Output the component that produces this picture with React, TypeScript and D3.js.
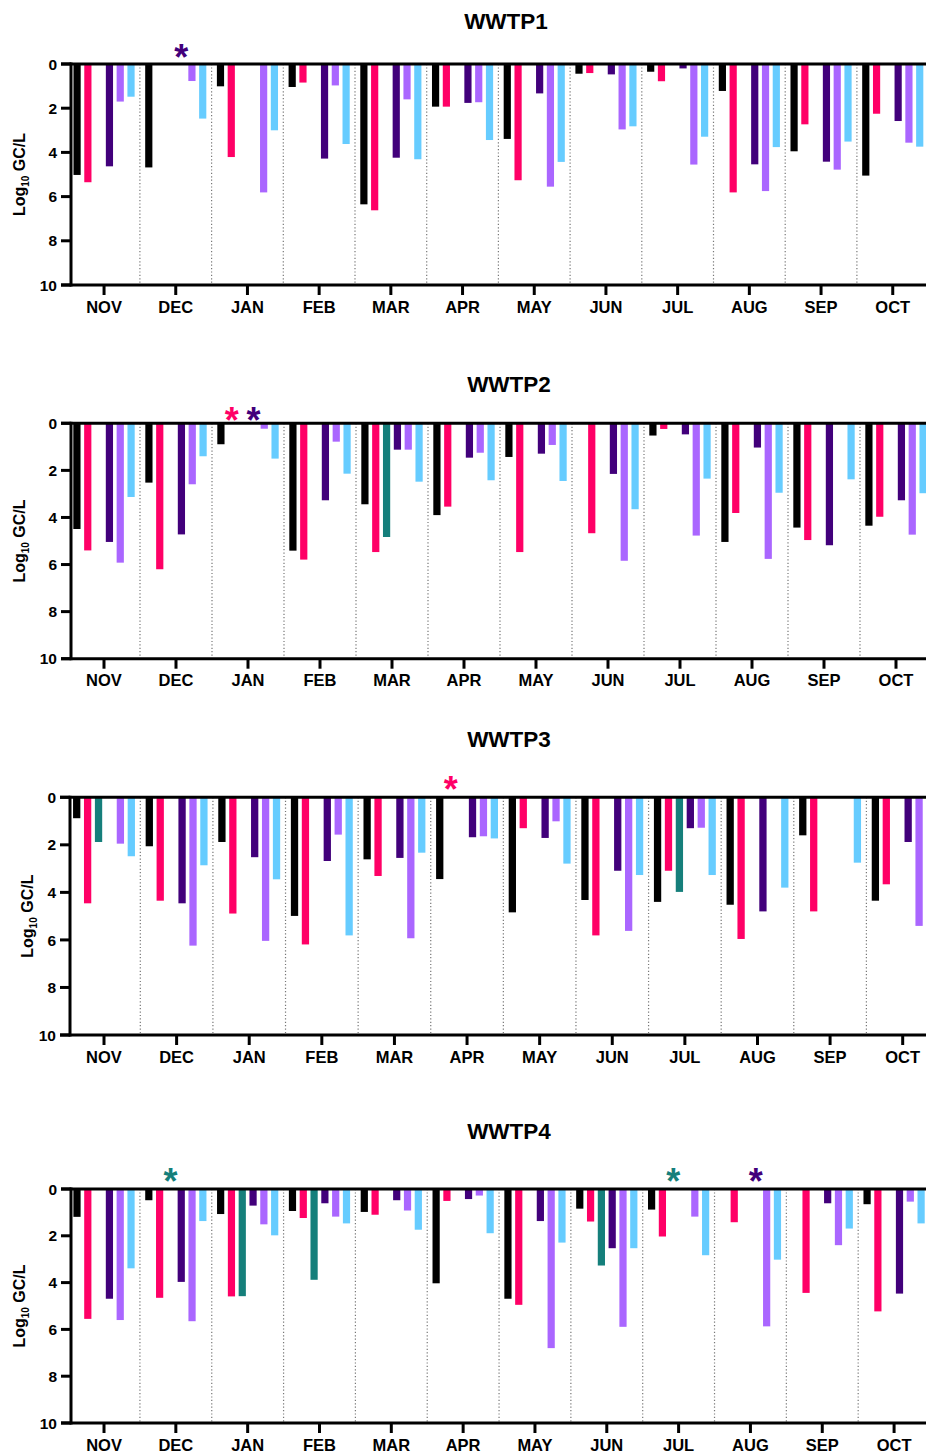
import React from "react";
import * as d3 from "d3";

const months = ["NOV", "DEC", "JAN", "FEB", "MAR", "APR", "MAY", "JUN", "JUL", "AUG", "SEP", "OCT"];
const seriesNames = ["S1", "S2", "S3", "S4", "S5", "S6"];
const seriesColors = ["#000000", "#FF0066", "#157F7B", "#42007B", "#AA66FF", "#66CCFF"];
const yTicks = [0, 2, 4, 6, 8, 10];
const panelTitles = ["WWTP1", "WWTP2", "WWTP3", "WWTP4"];

type V = number | null;

// rows = months, columns = series (black, pink, teal, dark purple, light purple, light blue)
const wwtp1: V[][] = [
  [5.02, 5.35, null, 4.63, 1.7, 1.48],
  [4.68, null, null, null, 0.77, 2.47],
  [1.01, 4.21, null, null, 5.81, 3.0],
  [1.04, 0.84, null, 4.28, 0.97, 3.62],
  [6.35, 6.62, null, 4.24, 1.6, 4.31],
  [1.93, 1.93, null, 1.76, 1.73, 3.44],
  [3.39, 5.26, null, 1.33, 5.55, 4.43],
  [0.44, 0.41, null, 0.47, 2.96, 2.82],
  [0.35, 0.78, null, 0.2, 4.55, 3.29],
  [1.22, 5.81, null, 4.54, 5.75, 3.76],
  [3.95, 2.73, null, 4.42, 4.78, 3.51],
  [5.05, 2.25, null, 2.58, 3.56, 3.74],
];

const wwtp2: V[][] = [
  [4.49, 5.4, null, 5.04, 5.92, 3.13],
  [2.52, 6.2, null, 4.72, 2.59, 1.4],
  [0.89, null, null, null, 0.23, 1.5],
  [5.41, 5.79, null, 3.27, 0.78, 2.14],
  [3.44, 5.47, 4.83, 1.12, 1.12, 2.48],
  [3.9, 3.54, null, 1.46, 1.25, 2.42],
  [1.43, 5.47, null, 1.29, 0.92, 2.45],
  [null, 4.67, null, 2.15, 5.84, 3.65],
  [0.52, 0.24, null, 0.47, 4.77, 2.35],
  [5.04, 3.81, null, 1.03, 5.76, 2.95],
  [4.43, 4.96, null, 5.18, null, 2.38],
  [4.35, 3.97, null, 3.27, 4.73, 2.97],
];

const wwtp3: V[][] = [
  [0.88, 4.46, 1.88, null, 1.95, 2.48],
  [2.06, 4.35, null, 4.46, 6.24, 2.86],
  [1.88, 4.89, null, 2.52, 6.04, 3.45],
  [4.99, 6.19, null, 2.68, 1.57, 5.81],
  [2.61, 3.31, null, 2.55, 5.93, 2.33],
  [3.44, null, null, 1.68, 1.64, 1.73],
  [4.84, 1.3, null, 1.71, 1.01, 2.79],
  [4.32, 5.81, null, 3.09, 5.62, 3.27],
  [4.4, 3.09, 3.98, 1.3, 1.28, 3.27],
  [4.52, 5.96, null, 4.8, null, 3.8],
  [1.6, 4.8, null, null, null, 2.75],
  [4.35, 3.66, null, 1.88, 5.41, null],
];

const wwtp4: V[][] = [
  [1.19, 5.55, null, 4.69, 5.6, 3.39],
  [0.48, 4.65, null, 3.97, 5.65, 1.37],
  [1.07, 4.59, 4.58, 0.71, 1.51, 1.98],
  [0.94, 1.24, 3.88, 0.61, 1.18, 1.47],
  [0.98, 1.1, null, 0.48, 0.92, 1.74],
  [4.03, 0.51, null, 0.43, 0.28, 1.89],
  [4.69, 4.95, null, 1.37, 6.8, 2.29],
  [0.84, 1.39, 3.27, 2.53, 5.89, 2.53],
  [0.88, 2.03, null, null, 1.18, 2.83],
  [null, 1.42, null, null, 5.87, 3.02],
  [null, 4.44, null, 0.61, 2.4, 1.69],
  [0.65, 5.23, null, 4.47, 0.54, 1.47],
];

// asterisks: month + series index
const stars1 = [{ month: "DEC", series: 3 }];
const stars2 = [{ month: "JAN", series: 1 }, { month: "JAN", series: 3 }];
const stars3 = [{ month: "APR", series: 1 }];
const stars4 = [{ month: "DEC", series: 2 }, { month: "JUL", series: 2 }, { month: "AUG", series: 3 }];

const panelData = [wwtp1, wwtp2, wwtp3, wwtp4];
const panelStars = [stars1, stars2, stars3, stars4];

// layout (positions only)
const layout = [
  { x0: 68.2, x1: 928.6, yTop: 64, yBot: 285, axisX: 71, titleX: 506, titleY: 29, labelX: 25, starDy: 14 },
  { x0: 68, x1: 932, yTop: 423.3, yBot: 658.7, axisX: 71, titleX: 509, titleY: 392, labelX: 25, starDy: 10 },
  { x0: 67.7, x1: 939, yTop: 797.3, yBot: 1035, axisX: 70, titleX: 509, titleY: 747, labelX: 33, starDy: 15 },
  { x0: 68.1, x1: 930, yTop: 1189, yBot: 1423, axisX: 71, titleX: 509, titleY: 1139, labelX: 25, starDy: 15 },
];

const W = 926;
const H = 1454;
const FONT = "'Liberation Sans', Arial, Helvetica, sans-serif";

function Panel({ idx }: { idx: number }) {
  const L = layout[idx];
  const data = panelData[idx];
  const stars = panelStars[idx];
  const x = d3.scaleBand<string>().domain(months).range([L.x0, L.x1]).padding(0);
  const bw = x.bandwidth();
  const xi = d3
    .scaleBand<string>()
    .domain(seriesNames)
    .range([0, bw])
    .paddingInner(0.333)
    .paddingOuter(0.49);
  const y = d3.scaleLinear().domain([0, 10]).range([L.yTop, L.yBot]);
  const tickLen = 10;
  const midY = (L.yTop + L.yBot) / 2;

  return (
    <g>
      {/* separators */}
      {months.slice(1).map((m) => (
        <line
          key={"sep" + m}
          x1={x(m)!}
          x2={x(m)!}
          y1={y(0)}
          y2={y(10)}
          stroke="#777"
          strokeWidth={1.2}
          strokeDasharray="1.2,2.2"
        />
      ))}
      {/* bars */}
      {data.map((row, mi) =>
        row.map((v, si) =>
          v == null ? null : (
            <rect
              key={`b${mi}-${si}`}
              x={x(months[mi])! + xi(seriesNames[si])!}
              y={y(0)}
              width={xi.bandwidth()}
              height={y(v) - y(0)}
              fill={seriesColors[si]}
            />
          )
        )
      )}
      {/* asterisks */}
      {stars.map((s, k) => {
        const cx = x(s.month)! + xi(seriesNames[s.series])! + xi.bandwidth() / 2;
        return (
          <text
            key={"st" + k}
            x={cx}
            y={y(0) - L.starDy + 20}
            textAnchor="middle"
            fontFamily={FONT}
            fontWeight="bold"
            fontSize={36}
            fill={seriesColors[s.series]}
          >
            *
          </text>
        );
      })}
      {/* zero line and bottom axis */}
      <line x1={L.axisX - tickLen} x2={W} y1={y(0)} y2={y(0)} stroke="#000" strokeWidth={3} />
      <line x1={L.axisX - tickLen} x2={W} y1={y(10)} y2={y(10)} stroke="#000" strokeWidth={3} />
      {/* y axis */}
      <line x1={L.axisX} x2={L.axisX} y1={y(0) - 1.5} y2={y(10) + 1.5} stroke="#000" strokeWidth={3} />
      {yTicks.map((t) => (
        <g key={"yt" + t}>
          <line x1={L.axisX - tickLen} x2={L.axisX} y1={y(t)} y2={y(t)} stroke="#000" strokeWidth={3} />
          <text
            x={L.axisX - 14}
            y={y(t)}
            dy="0.36em"
            textAnchor="end"
            fontFamily={FONT}
            fontWeight="bold"
            fontSize={15.5}
            fill="#000"
          >
            {t}
          </text>
        </g>
      ))}
      {/* month ticks + labels */}
      {months.map((m) => {
        const cx = x(m)! + bw / 2;
        return (
          <g key={"mt" + m}>
            <line x1={cx} x2={cx} y1={y(10)} y2={y(10) + 10} stroke="#000" strokeWidth={3} />
            <text
              x={cx}
              y={y(10) + 27.5}
              textAnchor="middle"
              fontFamily={FONT}
              fontWeight="bold"
              fontSize={16.5}
              fill="#000"
            >
              {m}
            </text>
          </g>
        );
      })}
      {/* title */}
      <text
        x={L.titleX}
        y={L.titleY}
        textAnchor="middle"
        fontFamily={FONT}
        fontWeight="bold"
        fontSize={22.5}
        fill="#000"
      >
        {panelTitles[idx]}
      </text>
      {/* y label */}
      <text
        transform={`translate(${L.labelX},${midY}) rotate(-90)`}
        textAnchor="middle"
        fontFamily={FONT}
        fontWeight="bold"
        fontSize={16}
        fill="#000"
      >
        Log
        <tspan fontSize={10} dy={4}>
          10
        </tspan>
        <tspan dy={-4}> GC/L</tspan>
      </text>
    </g>
  );
}

export default function App() {
  return (
    <svg
      width={W}
      height={H}
      viewBox={`0 0 ${W} ${H}`}
      style={{ position: "absolute", left: 0, top: 0, background: "#fff" }}
    >
      <rect x={0} y={0} width={W} height={H} fill="#fff" />
      {panelTitles.map((_, i) => (
        <Panel key={i} idx={i} />
      ))}
    </svg>
  );
}
